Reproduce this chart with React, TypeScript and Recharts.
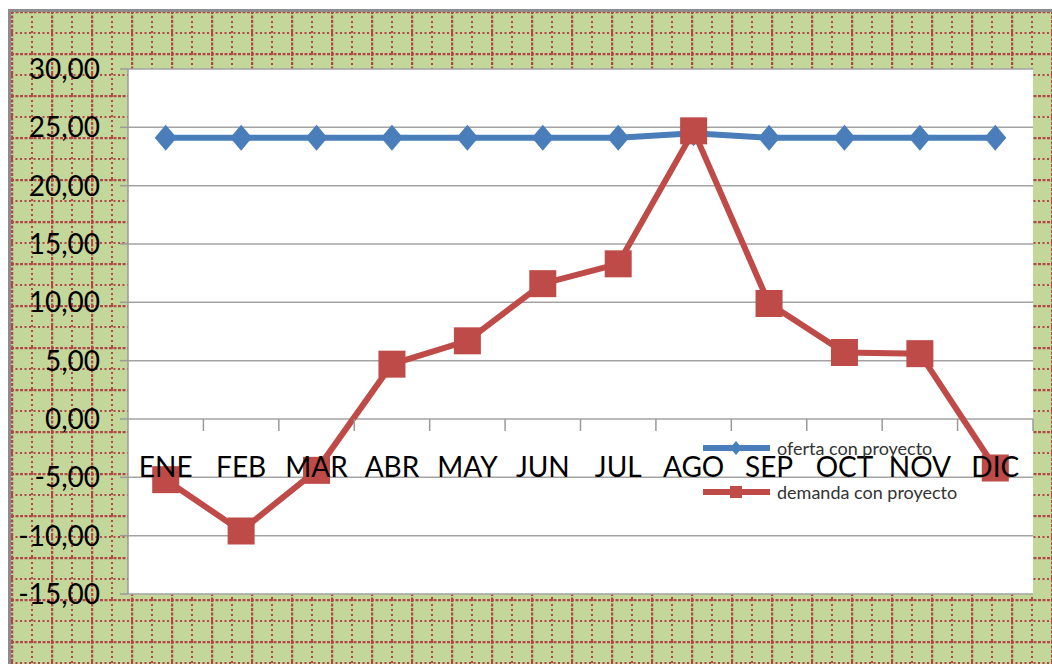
import React from 'react'
import {
  LineChart,
  Line,
  XAxis,
  YAxis,
  CartesianGrid,
  Legend,
} from 'recharts'

const meses = ['ENE', 'FEB', 'MAR', 'ABR', 'MAY', 'JUN', 'JUL', 'AGO', 'SEP', 'OCT', 'NOV', 'DIC']
const ofertaConProyecto = [24.1, 24.1, 24.1, 24.1, 24.1, 24.1, 24.1, 24.5, 24.1, 24.1, 24.1, 24.1]
const demandaConProyecto = [-5.2, -9.6, -4.4, 4.7, 6.7, 11.6, 13.3, 24.7, 9.9, 5.7, 5.6, -4.2]
const yTicks = [-15, -10, -5, 0, 5, 10, 15, 20, 25, 30]

const Y_MIN = -15
const Y_MAX = 30
const W = 1052
const H = 664
const MARGIN = { top: 69, right: 19, bottom: 0, left: 0 }
const Y_AXIS_W = 128
const X_AXIS_H = 70
const PLOT_H = H - MARGIN.top - MARGIN.bottom - X_AXIS_H
const PLOT_W = W - MARGIN.left - MARGIN.right - Y_AXIS_W
const ZERO_Y = MARGIN.top + (PLOT_H * Y_MAX) / (Y_MAX - Y_MIN)
const BAND = PLOT_W / meses.length

const BLUE = '#4a7ebb'
const RED = '#be4b48'
const FONT = 'Lato, "Open Sans", sans-serif'

const data = meses.map((mes, i) => ({
  mes,
  oferta: ofertaConProyecto[i],
  demanda: demandaConProyecto[i],
}))

const fmt = (v: number) => v.toFixed(2).replace('.', ',')

// category labels sit under the zero line, like an axis crossing at 0
const MonthTick = ({ x, payload }: any) => (
  <g>
    <line x1={x + BAND / 2} x2={x + BAND / 2} y1={ZERO_Y} y2={ZERO_Y + 12} stroke="#9a9a9a" strokeWidth={1.5} />
    <text x={x} y={ZERO_Y + 58} textAnchor="middle" fontSize={28} fontFamily={FONT} fill="#000">
      {payload.value}
    </text>
  </g>
)

const Diamond = ({ cx, cy, size = 11 }: any) => {
  if (cx == null || cy == null) return null
  const h = size * 1.18
  return <path d={`M${cx},${cy - h}L${cx + size},${cy}L${cx},${cy + h}L${cx - size},${cy}Z`} fill={BLUE} />
}

const Square = ({ cx, cy, side = 27 }: any) => {
  if (cx == null || cy == null) return null
  return <rect x={cx - side / 2} y={cy - side / 2} width={side} height={side} fill={RED} />
}

const legendItems = [
  { key: 'oferta', label: 'oferta con proyecto', color: BLUE, marker: 'diamond' },
  { key: 'demanda', label: 'demanda con proyecto', color: RED, marker: 'square' },
]

const ChartLegend = () => (
  <div style={{ fontFamily: FONT }}>
    {legendItems.map((it) => (
      <div key={it.key} style={{ display: 'flex', alignItems: 'center', height: 44 }}>
        <svg width={70} height={20}>
          <line x1={1} x2={68} y1={10} y2={10} stroke={it.color} strokeWidth={6} />
          {it.marker === 'diamond' ? (
            <Diamond cx={34} cy={10} size={6} />
          ) : (
            <Square cx={34} cy={10} side={12} />
          )}
        </svg>
        <span style={{ marginLeft: 5, fontSize: 18, color: '#333' }}>{it.label}</span>
      </div>
    ))}
  </div>
)

function Background() {
  return (
    <svg width={W} height={H} style={{ position: 'absolute', left: 0, top: 0 }}>
      <defs>
        <pattern id="ladrillo" width={40} height={42} patternUnits="userSpaceOnUse" x={11} y={11}>
          <rect width={40} height={42} fill="#c4d79b" />
          <line x1={0} x2={40} y1={1} y2={1} stroke="#b04848" strokeWidth={2.5} strokeDasharray="3 1.5" />
          <line x1={0} x2={40} y1={22} y2={22} stroke="#b04848" strokeWidth={2} strokeDasharray="2 2.5" />
          <line x1={1} x2={1} y1={0} y2={42} stroke="#b04848" strokeWidth={2.5} strokeDasharray="3 1.5" />
          <line x1={21} x2={21} y1={0} y2={42} stroke="#b04848" strokeWidth={2} strokeDasharray="2 3" />
        </pattern>
      </defs>
      <rect x={8} y={9} width={W - 8} height={H - 9} fill="#8c8c8c" />
      <rect x={11} y={12} width={W - 11} height={H - 12} fill="url(#ladrillo)" />
    </svg>
  )
}

export default function App() {
  return (
    <div style={{ position: 'absolute', left: 0, top: 0, width: W, height: H, overflow: 'hidden' }}>
      <Background />
      <div style={{ position: 'absolute', left: 0, top: 0 }}>
        <LineChart width={W} height={H} data={data} margin={MARGIN}>
          <CartesianGrid vertical={false} stroke="#a3a3a3" strokeWidth={1.5} fill="#ffffff" fillOpacity={1} />
          <XAxis
            dataKey="mes"
            height={X_AXIS_H}
            axisLine={false}
            tickLine={false}
            interval={0}
            padding={{ left: BAND / 2, right: BAND / 2 }}
            tick={<MonthTick />}
          />
          <YAxis
            width={Y_AXIS_W}
            domain={[Y_MIN, Y_MAX]}
            ticks={yTicks}
            allowDataOverflow
            tickFormatter={fmt}
            tickSize={8}
            tickMargin={20}
            axisLine={{ stroke: '#9a9a9a', strokeWidth: 1.5 }}
            tickLine={{ stroke: '#9a9a9a', strokeWidth: 1.5 }}
            tick={{ fontSize: 28, fontFamily: FONT, fill: '#000' }}
          />
          <Legend
            layout="vertical"
            align="center"
            verticalAlign="middle"
            content={<ChartLegend />}
            wrapperStyle={{ left: 702, top: 426, width: 320 }}
          />
          <Line
            dataKey="oferta"
            name="oferta con proyecto"
            stroke={BLUE}
            strokeWidth={6}
            dot={<Diamond />}
            activeDot={false}
            isAnimationActive={false}
          />
          <Line
            dataKey="demanda"
            name="demanda con proyecto"
            stroke={RED}
            strokeWidth={6}
            dot={<Square />}
            activeDot={false}
            isAnimationActive={false}
          />
        </LineChart>
      </div>
    </div>
  )
}
